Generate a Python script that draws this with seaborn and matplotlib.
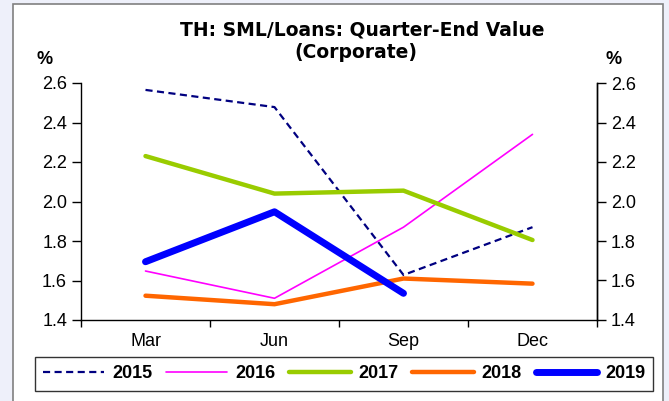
import matplotlib
matplotlib.use("Agg")
import matplotlib.pyplot as plt
from matplotlib.patches import Rectangle
from matplotlib.ticker import FixedLocator, NullFormatter
import seaborn as sns
import pandas as pd

# Quarter-end SML/Loans ratio for corporate borrowers (%)
quarters = ["Mar", "Jun", "Sep", "Dec"]
y2015 = [2.565, 2.478, 1.628, 1.870]
y2016 = [1.648, 1.510, 1.870, 2.340]
y2017 = [2.230, 2.040, 2.055, 1.805]
y2018 = [1.523, 1.480, 1.610, 1.584]
y2019 = [1.695, 1.948, 1.535]
years = ["2015", "2016", "2017", "2018", "2019"]
series = [y2015, y2016, y2017, y2018, y2019]
yticks = [1.4, 1.6, 1.8, 2.0, 2.2, 2.4, 2.6]

styles = {
    "2015": dict(color="#000080", lw=1.6, ls=(0, (3.2, 2.0))),
    "2016": dict(color="#FF00FF", lw=1.2, ls="-"),
    "2017": dict(color="#99CC00", lw=3.2, ls="-"),
    "2018": dict(color="#FF6600", lw=3.2, ls="-"),
    "2019": dict(color="#0000FF", lw=5.0, ls="-"),
}

rows = []
for yr, vals in zip(years, series):
    for q, v in zip(quarters, vals):
        rows.append({"quarter": q, "year": yr, "value": v})
df = pd.DataFrame(rows)

sns.set_theme(style="white")
plt.rcParams["font.family"] = ["Liberation Sans", "DejaVu Sans"]
for key in ["text.color", "axes.labelcolor", "xtick.color", "ytick.color"]:
    plt.rcParams[key] = "black"

TICK_FS = 13

fig = plt.figure(figsize=(6.69, 4.01), dpi=100)
fig.patch.set_facecolor("#EEF0FA")
# white panel with grey frame
frame = Rectangle((13 / 669, -0.01), (663 - 13) / 669, (401 - 4) / 401 + 0.01,
                  transform=fig.transFigure, facecolor="white",
                  edgecolor="#808080", lw=1.2, zorder=-5)
fig.patches.append(frame)

ax = fig.add_axes([81 / 669, 1 - 320 / 401, (597 - 81) / 669, (320 - 83) / 401])
ax.set_zorder(2)
ax.patch.set_alpha(0)

order = {q: i for i, q in enumerate(quarters)}
df["pos"] = df["quarter"].map(order)
handles = []
for yr in years:
    st = styles[yr]
    sub = df[df["year"] == yr]
    sns.lineplot(data=sub, x="pos", y="value", ax=ax, color=st["color"],
                 linewidth=st["lw"], linestyle=st["ls"], label=yr,
                 solid_capstyle="round", dash_capstyle="butt", legend=False)
    handles.append(ax.lines[-1])

ax.set_xlim(-0.5, len(quarters) - 0.5)
ax.set_ylim(1.4, 2.6)
ax.set_xlabel("")
ax.set_ylabel("")
ax.set_xticks(range(len(quarters)))
ax.set_xticklabels(quarters, fontsize=TICK_FS)
ax.xaxis.set_minor_locator(FixedLocator([i - 0.5 for i in range(len(quarters) + 1)]))
ax.xaxis.set_minor_formatter(NullFormatter())
ax.tick_params(axis="x", which="major", length=0, pad=9)
ax.tick_params(axis="x", which="minor", length=5, width=1, color="black",
               direction="out", bottom=True)
ax.set_yticks(yticks)
ax.set_yticklabels([f"{t:.1f}" for t in yticks], fontsize=TICK_FS)
ax.tick_params(axis="y", length=6.5, width=1, color="black", direction="out", pad=3.5,
               left=True, labelleft=True)

for s in ["left", "right", "bottom"]:
    ax.spines[s].set_visible(True)
    ax.spines[s].set_color("black")
    ax.spines[s].set_linewidth(1.0)
ax.spines["top"].set_visible(False)
ax.grid(False)

ax2 = ax.twinx()
ax2.set_zorder(1)
ax2.set_ylim(1.4, 2.6)
ax2.set_yticks(yticks)
ax2.set_yticklabels([f"{t:.1f}" for t in yticks], fontsize=TICK_FS)
ax2.tick_params(axis="y", length=6.5, width=1, color="black", direction="out", pad=3.5,
                right=True)
for s in ["left", "top", "bottom"]:
    ax2.spines[s].set_visible(False)
ax2.spines["right"].set_color("black")
ax2.spines["right"].set_linewidth(1.0)
ax2.grid(False)

title_font = ["DejaVu Sans"]
fig.text(362 / 669, 1 - 30 / 401, "TH: SML/Loans: Quarter-End Value", ha="center",
         va="center", fontsize=13.5, fontweight="bold", family=title_font)
fig.text(356 / 669, 1 - 52 / 401, "(Corporate)", ha="center", va="center",
         fontsize=13.5, fontweight="bold", family=title_font)
fig.text(45 / 669, 1 - 59 / 401, "%", ha="center", va="center", fontsize=13,
         fontweight="bold")
fig.text(614 / 669, 1 - 59 / 401, "%", ha="center", va="center", fontsize=13,
         fontweight="bold")

leg = fig.legend(handles, years, loc="center", ncol=5,
                 bbox_to_anchor=(344 / 669, 1 - 374 / 401), frameon=True,
                 fancybox=False, edgecolor="black", handlelength=3.4,
                 handletextpad=0.45, columnspacing=0.75, borderpad=0.45,
                 borderaxespad=0, prop={"weight": "bold", "size": 13})
leg.get_frame().set_linewidth(1.0)

fig.savefig("out.png", dpi=100, facecolor=fig.get_facecolor())
